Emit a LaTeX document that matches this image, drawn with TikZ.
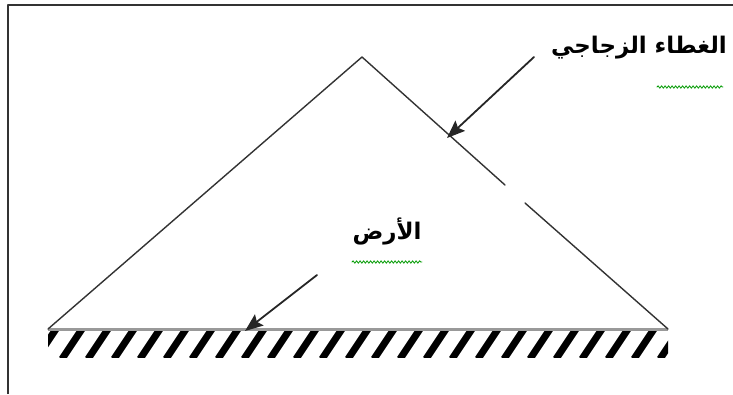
\documentclass[tikz,border=0pt]{standalone}
\usepackage{fontspec}
\newfontfamily\arabicfont[Script=Arabic]{DejaVu Sans}
\TeXXeTstate=1
\usetikzlibrary{arrows.meta,decorations.pathmorphing}

\tikzset{
  cover line/.style={line width=1.4bp, black!80},
  pointer/.style={line width=1.8bp, black!85, -{Stealth[length=18bp,width=14bp,inset=3bp]}},
  spell mark/.style={green!60!black, line width=0.8bp, decorate,
    decoration={snake, amplitude=1.2bp, segment length=3.5bp}},
  label ar/.style={inner sep=0pt, font=\arabicfont\bfseries\fontsize{23}{26}\selectfont}
}

\begin{document}
\begin{tikzpicture}[x=1bp, y=-1bp, line join=round, line cap=round]
  \useasboundingbox (0,0) rectangle (733,394);
  % frame
  \draw[line width=1.5bp, black!80, line cap=butt] (8,394) -- (8,5) -- (733,5);
  \coordinate (apex) at (362,57);
  \coordinate (baseL) at (48,329);
  \coordinate (baseR) at (668,329);
  % hatched ground
  \begin{scope}
    \clip (48,331) rectangle (668,357);
    \foreach \x in {36,62,...,690}
      \draw[line width=7bp, line cap=butt] (\x,359) -- (\x+20,329);
  \end{scope}
  \draw[black!40, line width=3bp, line cap=butt] (baseL) -- (baseR);
  % glass cover
  \draw[cover line] (baseL) -- (apex) -- (505,185);
  \draw[cover line] (525,203) -- (baseR);
  % labels
  \node[label ar] (cover) at (639,48) {\beginR الغطاء الزجاجي\endR};
  \node[label ar] (ground) at (387,231) {\beginR الأرض\endR};
  \draw[spell mark] (657,87) -- (723,87);
  \draw[spell mark] (352,262) -- (422,262);
  % arrows
  \coordinate (coverTail) at (534,57);
  \coordinate (coverTip) at (447,138);
  \coordinate (groundTail) at (317,275);
  \coordinate (groundTip) at (245,331);
  \draw[pointer] (coverTail) -- (coverTip);
  \draw[pointer] (groundTail) -- (groundTip);
\end{tikzpicture}
\end{document}
